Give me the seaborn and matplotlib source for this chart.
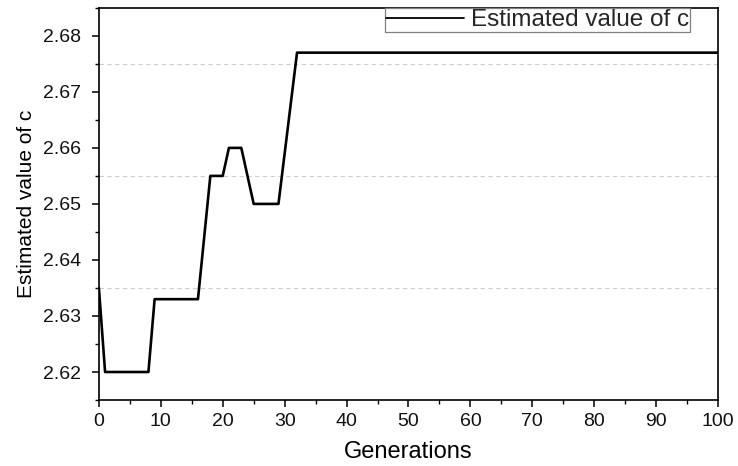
import matplotlib
matplotlib.use("Agg")
import matplotlib.pyplot as plt
from matplotlib.ticker import MultipleLocator
import seaborn as sns
import pandas as pd

# Data (breakpoints of the piecewise-constant estimate)
generations = [0, 1, 8, 9, 16, 18, 20, 21, 23, 25, 29, 32, 100]
estimated_c = [2.635, 2.620, 2.620, 2.633, 2.633, 2.655, 2.655,
               2.660, 2.660, 2.650, 2.650, 2.677, 2.677]
series_label = "Estimated value of c"
x_label = "Generations"
y_label = "Estimated value of c"
grid_levels = [2.635, 2.655, 2.675]
x_ticks = list(range(0, 101, 10))
y_ticks = [2.62, 2.63, 2.64, 2.65, 2.66, 2.67, 2.68]

df = pd.DataFrame({"Generations": generations, "c": estimated_c})

sns.set_theme(style="ticks")
plt.rcParams["font.family"] = ["Liberation Sans", "DejaVu Sans"]

fig = plt.figure(figsize=(7.38, 4.66), dpi=100)
ax = fig.add_axes([0.134, 0.1416, 0.839, 0.8416])

for g in grid_levels:
    ax.axhline(g, color="#cfcfcf", lw=0.8, ls=(0, (4, 3)), zorder=0)

sns.lineplot(data=df, x="Generations", y="c", ax=ax, color="black",
             linewidth=1.9, estimator=None, sort=False, label=series_label)

ax.set_xlim(0, 100)
ax.set_ylim(2.615, 2.685)
ax.set_xticks(x_ticks)
ax.set_yticks(y_ticks)
ax.set_yticklabels([f"{v:.2f}" for v in y_ticks])
ax.xaxis.set_minor_locator(MultipleLocator(5))
ax.yaxis.set_minor_locator(MultipleLocator(0.005))

for s in ax.spines.values():
    s.set_visible(True)
    s.set_color("black")
    s.set_linewidth(1.2)

ax.tick_params(axis="both", which="major", direction="out", length=5,
               width=1.1, color="black", labelsize=14, labelcolor="#111111")
ax.tick_params(axis="both", which="minor", direction="out", length=3,
               width=1.0, color="black")
ax.tick_params(axis="x", which="major", pad=4.5)
ax.tick_params(axis="y", which="major", pad=8)

ax.set_xlabel(x_label, fontsize=17, labelpad=8, color="black")
ax.set_ylabel(y_label, fontsize=15, labelpad=5, color="black")

leg = ax.legend(loc="upper right", bbox_to_anchor=(0.955, 1.0),
                borderaxespad=0, fontsize=17.5, handlelength=3.2,
                handletextpad=0.3, borderpad=0.05, fancybox=False,
                framealpha=1, edgecolor="#808080")
leg.get_frame().set_linewidth(0.9)
for h in leg.get_lines():
    h.set_linewidth(1.3)

fig.savefig("out.png", dpi=100)
